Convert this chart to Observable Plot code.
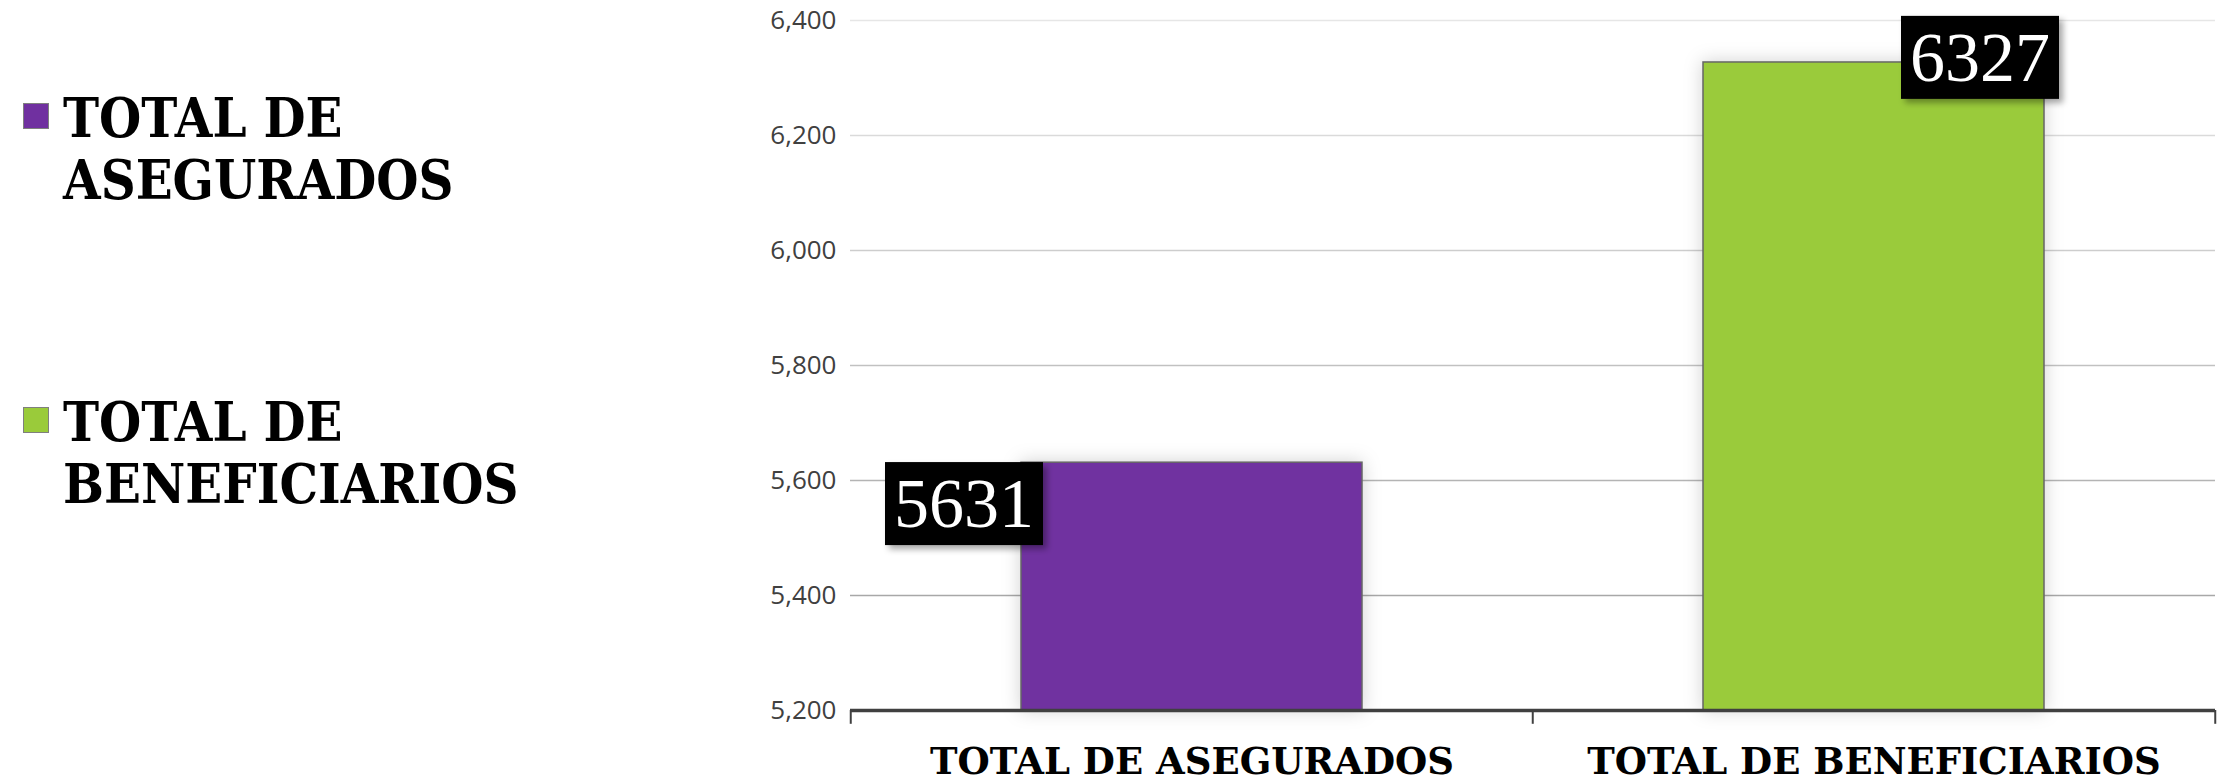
<!DOCTYPE html>
<html>
<head>
<meta charset="utf-8">
<script src="https://cdn.jsdelivr.net/npm/d3@7"></script>
<script src="https://cdn.jsdelivr.net/npm/@observablehq/plot@0.6"></script>
<style>
  body { margin: 0; background: #fff; }
  #wrap { position: relative; width: 2222px; height: 782px; overflow: hidden; }
  #legend { position: absolute; left: 0; top: 0; width: 840px; height: 782px;
            font-family: "DejaVu Serif", serif; font-weight: bold; font-size: 48.5px; color: #000; }
  .sw { position: absolute; left: 23px; width: 24px; height: 24px; border: 1.5px solid #7f7f7f; }
  .lbl { position: absolute; left: 63px; line-height: 54.5px; white-space: nowrap;
         transform: scaleY(1.12); transform-origin: 0 0; }
  #chart { position: absolute; left: 0; top: 0; }
  .vlabel text, text.vl { font-family: "Liberation Serif", serif !important; }
</style>
</head>
<body>
<div id="wrap">
  <div id="chart"></div>
  <div id="legend"></div>
</div>
<script>
// ---- data ----
const categories = ["TOTAL DE ASEGURADOS", "TOTAL DE BENEFICIARIOS"];
const values = [5631, 6327];
const legendLines = [["TOTAL DE", "ASEGURADOS"], ["TOTAL DE", "BENEFICIARIOS"]];
const colors = ["#7030A0", "#9ACB3A"];
const yTicks = [5200, 5400, 5600, 5800, 6000, 6200, 6400];

const data = categories.map((c, i) => ({ category: c, value: values[i] }));

// ---- layout ----
const W = 2222, H = 782, mL = 850, mR = 7, mT = 20, mB = 72;
const step = (W - mL - mR) / categories.length;
const fmt = d3.format(",");
const gridColor = d3.scaleLinear().domain([5400, 6400]).range(["#a8a8a8", "#e6e6e6"]);

const chart = Plot.plot({
  width: W, height: H,
  marginLeft: mL, marginRight: mR, marginTop: mT, marginBottom: mB,
  x: { domain: categories, paddingInner: 0.5, paddingOuter: 0.25, label: null },
  y: { domain: [yTicks[0], yTicks[yTicks.length - 1]], label: null },
  color: { domain: categories, range: colors },
  marks: [
    Plot.ruleY(yTicks.slice(1), { y: d => d, stroke: d => gridColor(d), strokeWidth: 1.5 }),
    Plot.barY(data, { x: "category", y1: yTicks[0], y2: "value", fill: "category",
                      stroke: "#666", strokeWidth: 1.5 }),
    Plot.ruleY([yTicks[0]], { stroke: "#404040", strokeWidth: 3.5 }),
    Plot.ruleX(categories, { x: d => d, dx: -step / 2, y1: yTicks[0], y2: yTicks[0] - 24,
                             stroke: "#404040", strokeWidth: 2 }),
    Plot.ruleX(categories.slice(-1), { x: d => d, dx: step / 2, y1: yTicks[0], y2: yTicks[0] - 24,
                             stroke: "#404040", strokeWidth: 2 }),
    Plot.axisY({ ticks: yTicks, tickSize: 0, tickPadding: 14, tickFormat: fmt,
                 fontSize: 26, fontFamily: "Open Sans", fill: "#404040", label: null }),
    Plot.axisX({ tickSize: 0, tickPadding: 37, fontSize: 37, fontFamily: "DejaVu Serif",
                 fontWeight: "bold", fill: "#000", label: null }),
    Plot.text(data.slice(0, 1), { x: "category", y: "value", text: d => String(d.value),
                 dx: -228, dy: 42, fill: "white", fontSize: 70, fontFamily: "Liberation Serif",
                 className: "vlabel" }),
    Plot.text(data.slice(1, 2), { x: "category", y: "value", text: d => String(d.value),
                 dx: 106, dy: -4, fill: "white", fontSize: 70, fontFamily: "Liberation Serif",
                 className: "vlabel" })
  ]
});
document.getElementById("chart").appendChild(chart);

// filters for shadows
const ns = "http://www.w3.org/2000/svg";
const defs = document.createElementNS(ns, "defs");
defs.innerHTML = `
  <filter id="glow" x="-20%" y="-20%" width="140%" height="140%">
    <feDropShadow dx="0" dy="0" stdDeviation="9" flood-color="#000" flood-opacity="0.18"/>
  </filter>
  <filter id="lblshadow" x="-20%" y="-20%" width="150%" height="150%">
    <feDropShadow dx="4" dy="4" stdDeviation="3" flood-color="#000" flood-opacity="0.35"/>
  </filter>`;
chart.insertBefore(defs, chart.firstChild);
const barG = chart.querySelector('g[aria-label="bar"]');
if (barG) barG.setAttribute("filter", "url(#glow)");

// black boxes behind value labels
chart.querySelectorAll('g[aria-label="text"] text').forEach(t => {
  t.classList.add("vl");
  t.setAttribute("font-family", "Liberation Serif");
  t.style.fontFamily = "'Liberation Serif', serif";
  const bb = t.getBBox();
  const cy = bb.y + bb.height / 2;
  const r = document.createElementNS(ns, "rect");
  r.setAttribute("x", bb.x - 9);
  r.setAttribute("width", bb.width + 18);
  r.setAttribute("y", cy - 41.5);
  r.setAttribute("height", 83);
  r.setAttribute("fill", "#000");
  r.setAttribute("stroke", "none");
  r.setAttribute("filter", "url(#lblshadow)");
  const tr = t.getAttribute("transform");
  if (tr) r.setAttribute("transform", tr);
  t.parentNode.insertBefore(r, t);
});

// legend
const legend = document.getElementById("legend");
const itemTops = [88, 392];
legendLines.forEach((lines, i) => {
  const sw = document.createElement("div");
  sw.className = "sw";
  sw.style.top = (itemTops[i] + 15) + "px";
  sw.style.background = colors[i];
  legend.appendChild(sw);
  const lb = document.createElement("div");
  lb.className = "lbl";
  lb.style.top = itemTops[i] + "px";
  lb.innerHTML = lines.join("<br>");
  legend.appendChild(lb);
});
</script>
</body>
</html>
